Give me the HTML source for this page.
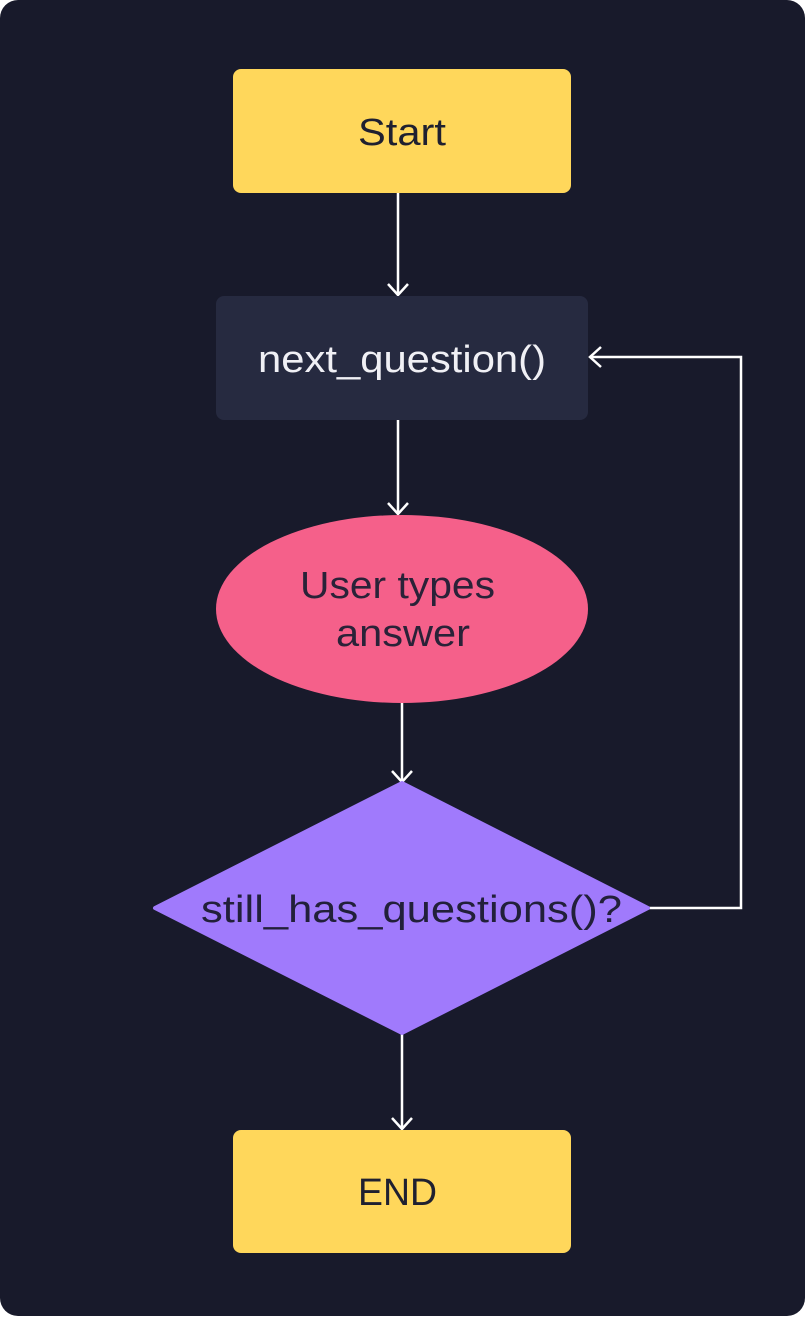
<!DOCTYPE html>
<html><head><meta charset="utf-8"><style>
html,body{margin:0;padding:0;background:#fff;}
body{width:805px;height:1316px;overflow:hidden;}
</style></head><body>
<svg width="805" height="1316" viewBox="0 0 805 1316" xmlns="http://www.w3.org/2000/svg" font-family="Liberation Sans, sans-serif">
<rect x="0" y="0" width="805" height="1316" rx="18" fill="#181a2b"/>
<g stroke="#ffffff" stroke-width="2.5" fill="none">
<line x1="398" y1="193" x2="398" y2="295"/>
<polyline points="388,284 398,295 408,284"/>
<line x1="398" y1="420" x2="398" y2="514"/>
<polyline points="388,503 398,514 408,503"/>
<line x1="402" y1="703" x2="402" y2="782"/>
<polyline points="392,771 402,782 412,771"/>
<line x1="402" y1="1033" x2="402" y2="1129"/>
<polyline points="392,1118 402,1129 412,1118"/>
<polyline points="647,908 741,908 741,357 590,357"/>
<polyline points="601,347 590,357 601,367"/>
</g>
<rect x="233" y="69" width="338" height="124" rx="8" fill="#ffd75b"/>
<text x="358" y="145" font-size="38" textLength="88" lengthAdjust="spacingAndGlyphs" fill="#1f2030">Start</text>
<rect x="216" y="296" width="372" height="124" rx="8" fill="#262a40"/>
<text x="258" y="372" font-size="38" textLength="288" lengthAdjust="spacingAndGlyphs" fill="#f0f0f5">next_question()</text>
<ellipse cx="402" cy="609" rx="186" ry="94" fill="#f5608a"/>
<text x="300" y="598" font-size="38" textLength="195" lengthAdjust="spacingAndGlyphs" fill="#2a2238">User types</text>
<text x="336" y="646" font-size="38" textLength="134" lengthAdjust="spacingAndGlyphs" fill="#2a2238">answer</text>
<polygon points="402,783 648,908 402,1033 155,908" fill="#a07afc" stroke="#a07afc" stroke-linejoin="round" stroke-width="4"/>
<text x="201" y="922" font-size="38" textLength="421" lengthAdjust="spacingAndGlyphs" fill="#22203a">still_has_questions()?</text>
<rect x="233" y="1130" width="338" height="123" rx="8" fill="#ffd75b"/>
<text x="358" y="1205" font-size="38" textLength="79" lengthAdjust="spacingAndGlyphs" fill="#1f2030">END</text>
</svg>
</body></html>
